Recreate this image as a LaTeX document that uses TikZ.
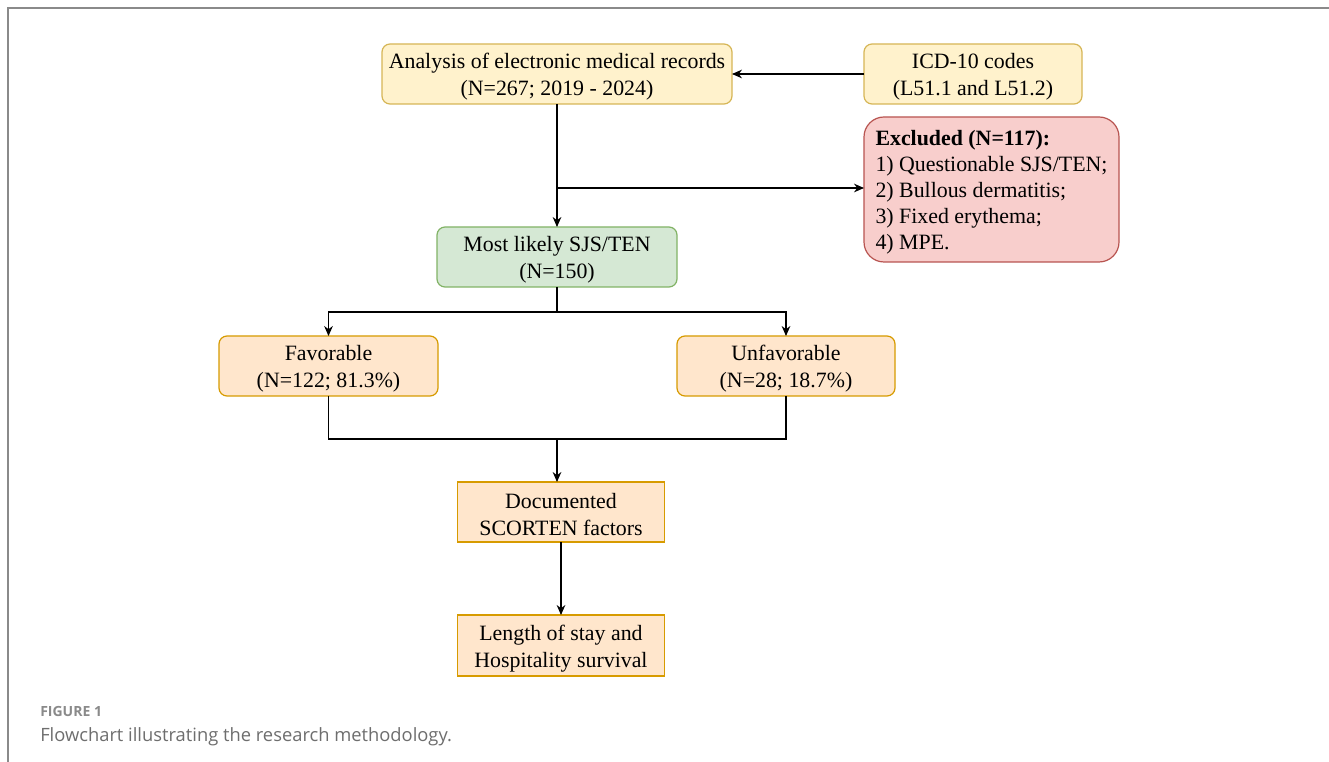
\documentclass[tikz,border=0pt]{standalone}
\usepackage{fontspec}
\setmainfont{Liberation Serif}
\newfontfamily\capfont{Open Sans}
\usetikzlibrary{arrows.meta}
\definecolor{yfill}{HTML}{FFF2CC}\definecolor{ystroke}{HTML}{D6B656}
\definecolor{rfill}{HTML}{F8CECC}\definecolor{rstroke}{HTML}{B85450}
\definecolor{gfill}{HTML}{D5E8D4}\definecolor{gstroke}{HTML}{82B366}
\definecolor{ofill}{HTML}{FFE6CC}\definecolor{ostroke}{HTML}{D79B00}
\definecolor{framegray}{HTML}{8A8A8A}
\definecolor{capgray}{HTML}{6E6E6E}
\tikzset{
  box/.style={draw, line width=0.9pt, inner sep=0pt, outer sep=0pt},
  ybox/.style={box, fill=yfill, draw=ystroke, rounded corners=6pt},
  rbox/.style={box, fill=rfill, draw=rstroke, rounded corners=15pt},
  gbox/.style={box, fill=gfill, draw=gstroke, rounded corners=6pt},
  obox/.style={box, fill=ofill, draw=ostroke, rounded corners=6pt},
  osq/.style={box, fill=ofill, draw=ostroke},
  txt/.style={inner sep=0pt, align=center, text=black, font=\fontsize{16.4}{20.25}\selectfont},
  ltxt/.style={inner sep=0pt, align=left, text=black, font=\fontsize{16.4}{19.5}\selectfont},
  arr/.style={draw=black, line width=0.8pt, -{Stealth[length=7.5pt,width=6.5pt]}},
  ln/.style={draw=black, line width=0.8pt},
}
\begin{document}
\begin{tikzpicture}[x=0.75pt,y=-0.75pt]
\useasboundingbox (0,0) rectangle (1329,762);
\fill[white] (0,0) rectangle (1329,762);
\draw[framegray, line width=1.5pt] (8,762) -- (8,8) -- (1329,8);

\node[ybox, minimum width=262.5pt, minimum height=45pt] (ana) at (557,74) {};
\node[txt] (anat) at ([yshift=-2.25pt]ana.center) {Analysis of electronic medical records\\(N=267; 2019 - 2024)};
\node[ybox, minimum width=163.5pt, minimum height=45pt] (icd) at (973,74) {};
\node[txt] (icdt) at ([yshift=-2.25pt]icd.center) {ICD-10 codes\\(L51.1 and L51.2)};
\node[rbox, minimum width=191.25pt, minimum height=108.75pt] (exc) at (991.5,189.5) {};
\node[ltxt] (exct) at ([yshift=-2pt]exc.center) {\textbf{Excluded (N=117):}\\1) Questionable SJS/TEN;\\2) Bullous dermatitis;\\3) Fixed erythema;\\4) MPE.};
\node[gbox, minimum width=180pt, minimum height=45pt] (ml) at (557,257) {};
\node[txt] (mlt) at ([yshift=-2.25pt]ml.center) {Most likely SJS/TEN\\(N=150)};
\node[obox, minimum width=164.25pt, minimum height=45pt] (fav) at (328.5,366) {};
\node[txt] (favt) at ([yshift=-2.25pt]fav.center) {Favorable\\(N=122; 81.3\%)};
\node[obox, minimum width=163.5pt, minimum height=45pt] (unf) at (786,366) {};
\node[txt] (unft) at ([yshift=-2.25pt]unf.center) {Unfavorable\\(N=28; 18.7\%)};
\node[osq, minimum width=155.25pt, minimum height=45pt] (doc) at (561,512) {};
\node[txt] (doct) at ([yshift=-2.25pt]doc.center) {Documented\\SCORTEN factors};
\node[osq, minimum width=155.25pt, minimum height=45.75pt] (len) at (561,645.5) {};
\node[txt] (lent) at ([yshift=-2.25pt]len.center) {Length of stay and\\Hospitality survival};

\draw[arr] (icd.west) -- (ana.east);
\draw[arr] (ana.south) -- (ml.north);
\coordinate (br) at (557,188);
\draw[arr] (br) -- (br -| exc.west);
\coordinate (sp) at (557,312);
\draw[ln] (ml.south) -- (sp);
\draw[arr] (sp) -| (fav.north);
\draw[arr] (sp) -| (unf.north);
\coordinate (mg) at (557,439);
\draw[ln] (fav.south) |- (mg);
\draw[ln] (unf.south) |- (mg);
\draw[arr] (mg) -- (mg |- doc.north);
\draw[arr] (doc.south) -- (len.north);

\node[anchor=base west, inner sep=0pt, text=framegray, font=\capfont\bfseries\fontsize{10.5}{12}\selectfont] (fig) at (40,716) {FIGURE 1};
\node[anchor=base west, inner sep=0pt, text=capgray, font=\capfont\fontsize{13.75}{16}\selectfont] (cap) at (40,741) {Flowchart illustrating the research methodology.};
\end{tikzpicture}
\end{document}
